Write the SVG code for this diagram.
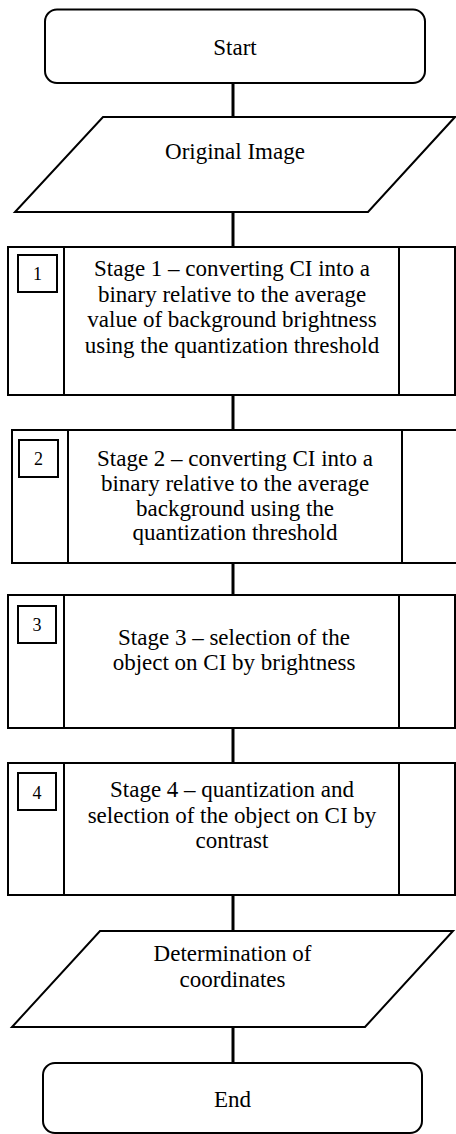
<svg xmlns="http://www.w3.org/2000/svg" width="456" height="1134" viewBox="0 0 456 1134">
  <style>
    .shape { fill: #ffffff; stroke: #000000; stroke-width: 2; }
    .divider { fill: none; stroke: #000000; stroke-width: 2; }
    .link { fill: none; stroke: #000000; stroke-width: 3; }
    .label { font-size: 23px; fill: #000000; text-anchor: middle; }
    .num { font-size: 18px; fill: #000000; text-anchor: middle; }
  </style>
  <rect width="456" height="1134" fill="#ffffff"/>

  <!-- connectors -->
  <g id="connectors">
    <line class="link" x1="233" y1="83" x2="233" y2="117"/>
    <line class="link" x1="233" y1="212" x2="233" y2="247"/>
    <line class="link" x1="233" y1="395" x2="233" y2="430"/>
    <line class="link" x1="233" y1="563" x2="233" y2="595"/>
    <line class="link" x1="233" y1="728" x2="233" y2="763"/>
    <line class="link" x1="233" y1="895" x2="233" y2="931"/>
    <line class="link" x1="233" y1="1027" x2="233" y2="1063"/>
  </g>

  <g font-family="'Liberation Serif', Tinos, 'Times New Roman', 'DejaVu Serif', serif">
  <!-- terminator: start -->
  <g id="start">
    <rect class="shape" x="45" y="9.5" width="380" height="73.5" rx="12" ry="12"/>
    <text class="label" x="235" y="55">Start</text>
  </g>

  <!-- input: original image -->
  <g id="original-image">
    <polygon class="shape" points="103,117 455,117 368,212 15,212"/>
    <text class="label" x="235" y="159">Original Image</text>
  </g>

  <!-- stage 1 -->
  <g id="stage1">
    <rect class="shape" x="8" y="247" width="447" height="148"/>
    <line class="divider" x1="64" y1="247" x2="64" y2="395"/>
    <line class="divider" x1="399" y1="247" x2="399" y2="395"/>
    <rect class="shape" x="18" y="255" width="39" height="37"/>
    <text class="num" x="37.5" y="280">1</text>
    <text class="label" x="232" y="276">Stage 1 – converting CI into a</text>
    <text class="label" x="232" y="302">binary relative to the average</text>
    <text class="label" x="232" y="327">value of background brightness</text>
    <text class="label" x="232" y="353">using the quantization threshold</text>
  </g>

  <!-- stage 2 -->
  <g id="stage2">
    <rect class="shape" x="12" y="430" width="448" height="133"/>
    <line class="divider" x1="68" y1="430" x2="68" y2="563"/>
    <line class="divider" x1="402" y1="430" x2="402" y2="563"/>
    <rect class="shape" x="19" y="440" width="39" height="37"/>
    <text class="num" x="38.5" y="465">2</text>
    <text class="label" x="235" y="466">Stage 2 – converting CI into a</text>
    <text class="label" x="235" y="491">binary relative to the average</text>
    <text class="label" x="235" y="516">background using the</text>
    <text class="label" x="235" y="540">quantization threshold</text>
  </g>

  <!-- stage 3 -->
  <g id="stage3">
    <rect class="shape" x="8" y="595" width="447" height="133"/>
    <line class="divider" x1="64" y1="595" x2="64" y2="728"/>
    <line class="divider" x1="399" y1="595" x2="399" y2="728"/>
    <rect class="shape" x="18" y="606" width="38" height="37"/>
    <text class="num" x="37" y="631">3</text>
    <text class="label" x="234" y="645">Stage 3 – selection of the</text>
    <text class="label" x="234" y="670">object on CI by brightness</text>
  </g>

  <!-- stage 4 -->
  <g id="stage4">
    <rect class="shape" x="8" y="763" width="447" height="132"/>
    <line class="divider" x1="64" y1="763" x2="64" y2="895"/>
    <line class="divider" x1="399" y1="763" x2="399" y2="895"/>
    <rect class="shape" x="18" y="773" width="38" height="37"/>
    <text class="num" x="37" y="799">4</text>
    <text class="label" x="232" y="797">Stage 4 – quantization and</text>
    <text class="label" x="232" y="823">selection of the object on CI by</text>
    <text class="label" x="232" y="848">contrast</text>
  </g>

  <!-- output: coordinates -->
  <g id="coordinates">
    <polygon class="shape" points="100,931 453,931 365,1027 12,1027"/>
    <text class="label" x="232.5" y="961">Determination of</text>
    <text class="label" x="232.5" y="987">coordinates</text>
  </g>

  <!-- terminator: end -->
  <g id="end">
    <rect class="shape" x="43" y="1063" width="379" height="70" rx="12" ry="12"/>
    <text class="label" x="232.5" y="1107">End</text>
  </g>
  </g>
</svg>
